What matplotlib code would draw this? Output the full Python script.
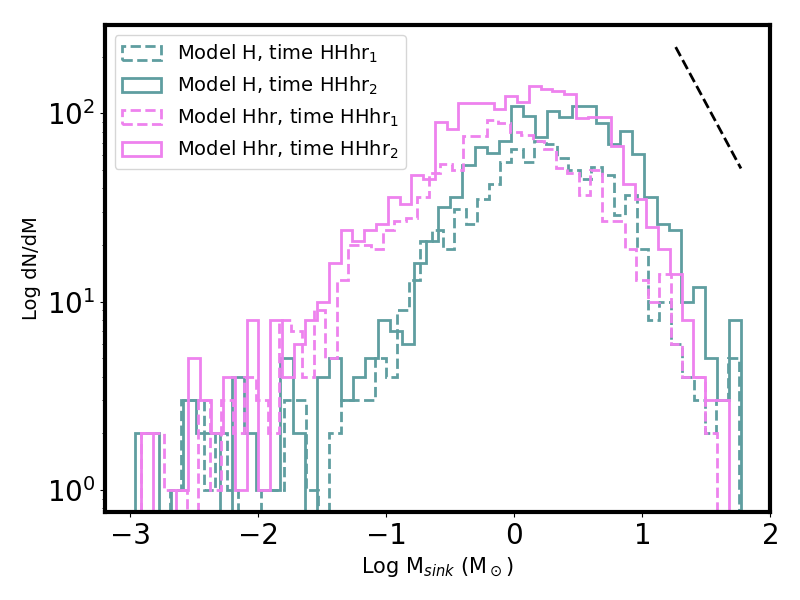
import matplotlib
matplotlib.use("Agg")
import matplotlib.pyplot as plt
import numpy as np

# histogram counts, 50 bins per run
# Model H, time HHhr1
h_t1_range = (-2.693, 1.756)
h_t1 = [1, 3, 3, 1, 2, 1, 0, 0, 1, 1, 3, 3, 1, 0, 2, 3, 3, 3, 5, 4,
        9, 13, 21, 24, 19, 31, 26, 35, 42, 55, 65, 55, 71, 69, 58, 50, 45, 52, 47, 29,
        37, 19, 8, 10, 6, 4, 3, 2, 3, 5]
# Model H, time HHhr2
h_t2_range = (-2.965, 1.774)
h_t2 = [2, 2, 0, 1, 3, 2, 2, 0, 4, 2, 1, 1, 5, 2, 0, 4, 5, 3, 4, 5,
        8, 7, 6, 16, 21, 32, 36, 53, 66, 62, 71, 109, 97, 75, 103, 96, 110, 110, 89, 69,
        81, 61, 36, 26, 24, 10, 12, 5, 3, 8]
# Model Hhr, time HHhr1
hhr_t1_range = (-2.919, 1.583)
hhr_t1 = [2, 2, 1, 1, 0, 3, 1, 3, 2, 4, 3, 2, 8, 7, 4, 9, 5, 13, 20, 20,
          19, 24, 27, 28, 36, 48, 54, 50, 76, 76, 92, 89, 80, 77, 71, 65, 51, 48, 37, 50,
          27, 27, 19, 13, 10, 14, 6, 4, 4, 2]
# Model Hhr, time HHhr2
hhr_t2_range = (-2.918, 1.674)
hhr_t2 = [2, 0, 0, 1, 5, 3, 2, 4, 1, 8, 1, 8, 4, 6, 8, 10, 16, 24, 21, 24,
          26, 36, 33, 47, 45, 90, 83, 113, 113, 113, 105, 124, 115, 140, 135, 131, 127, 95, 96, 96,
          67, 42, 35, 25, 19, 14, 8, 4, 3, 3]

# reference slope line
slope_x = [1.26, 1.77]
slope_y = [225, 51]

teal = "cadetblue"
pink = "violet"

runs = [
    (h_t1_range, h_t1, teal, "--", r"Model H, time HHhr$_1$"),
    (h_t2_range, h_t2, teal, "-", r"Model H, time HHhr$_2$"),
    (hhr_t1_range, hhr_t1, pink, "--", r"Model Hhr, time HHhr$_1$"),
    (hhr_t2_range, hhr_t2, pink, "-", r"Model Hhr, time HHhr$_2$"),
]

fig, ax = plt.subplots(figsize=(8, 6), dpi=100)
fig.subplots_adjust(left=0.131, right=0.963, bottom=0.147, top=0.958)

for (lo, hi), counts, col, ls, lab in runs:
    edges = np.linspace(lo, hi, len(counts) + 1)
    centers = 0.5 * (edges[1:] + edges[:-1])
    ax.hist(centers, bins=edges, weights=counts, histtype="step",
            color=col, linestyle=ls, linewidth=2, label=lab, log=True)

ax.plot(slope_x, slope_y, "k--", linewidth=2)

ax.set_xlim(-3.2, 2.0)
ax.set_ylim(0.767, 294)
ax.set_xlabel(r"Log M$_{sink}$ (M$_\odot$)", fontsize=15)
ax.set_ylabel("Log dN/dM", fontsize=14)
ax.tick_params(axis="both", which="major", labelsize=20)
for sp in ax.spines.values():
    sp.set_linewidth(3)

ax.legend(loc="upper left", fontsize=14)

fig.savefig("out.png", dpi=100)
